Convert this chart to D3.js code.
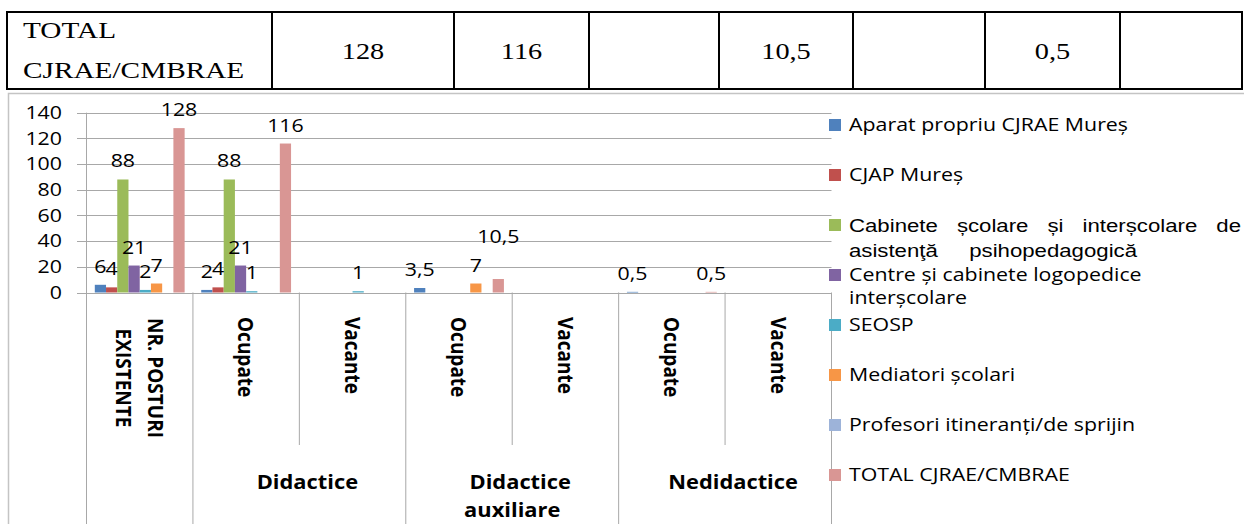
<!DOCTYPE html>
<html>
<head>
<meta charset="utf-8">
<script src="https://cdn.jsdelivr.net/npm/d3@7/dist/d3.min.js"></script>
<style>
  body { margin: 0; background: #fff; }
  svg { display: block; }
</style>
</head>
<body>
<svg id="chart"></svg>
<script>
// categories on the x axis (level 1) and their groups (level 2)
var categories = ["NR. POSTURI EXISTENTE", "Ocupate", "Vacante", "Ocupate", "Vacante", "Ocupate", "Vacante"];
var groupNames = ["Didactice", "Didactice auxiliare", "Nedidactice"];
var groupSpans = [[1, 2], [3, 4], [5, 6]];

// series
var seriesNames = [
  "Aparat propriu CJRAE Mureș",
  "CJAP Mureș",
  "Cabinete școlare și interșcolare de asistenţă psihopedagogică",
  "Centre și cabinete logopedice interșcolare",
  "SEOSP",
  "Mediatori școlari",
  "Profesori itineranți/de sprijin",
  "TOTAL CJRAE/CMBRAE"
];
var aparat    = [6, 2, null, 3.5, null, 0.5, null];
var cjap      = [4, 4, null, null, null, null, null];
var cabinete  = [88, 88, null, null, null, null, null];
var centre    = [21, 21, null, null, null, null, null];
var seosp     = [2, 1, 1, null, null, null, null];
var mediatori = [7, null, null, 7, null, null, null];
var profesori = [null, null, null, null, null, null, null];
var total     = [128, 116, null, 10.5, null, 0.5, null];
var seriesValues = [aparat, cjap, cabinete, centre, seosp, mediatori, profesori, total];

var colors = ["#4f81bd", "#c0504d", "#9bbb59", "#8064a2", "#4bacc6", "#f79646", "#9db3d9", "#d99694"];

// table row above the chart
var tableLabel = ["TOTAL", "CJRAE/CMBRAE"];
var tableValues = [128, 116, null, 10.5, null, 0.5, null];

var yTicks = [0, 20, 40, 60, 80, 100, 120, 140];

var W = 1244, H = 524;
var svg = d3.select("#chart").attr("width", W).attr("height", H);

var fmt = function(v) { return String(v).replace(".", ","); };

// the source picture is stretched sideways, so text gets a horizontal scale
function stext(parent, x, y, str, o) {
  o = o || {};
  var tr = "translate(" + x + "," + y + ") scale(" + (o.sx || 1) + ",1)" + (o.rot ? " rotate(90)" : "");
  return parent.append("text")
    .attr("transform", tr)
    .attr("dy", o.dy || null)
    .attr("text-anchor", o.anchor || "start")
    .style("font-family", o.family || "'Open Sans', sans-serif")
    .style("font-size", (o.size || 17.5) + "px")
    .style("font-weight", o.bold ? "bold" : "normal")
    .attr("fill", "#000")
    .text(str);
}

// spread the words of a line so that it ends at xEnd (justified text)
function justify(t, x0, xEnd, sx) {
  var str = t.text(), gaps = str.split(" ").length - 1;
  var len = t.node().getComputedTextLength();
  var ws = ((xEnd - x0) / sx - len) / gaps;
  t.style("word-spacing", Math.max(0, ws) + "px");
}

/* ---- table row ---- */
var tbl = svg.append("g");
var colEdges = [7, 272, 454, 589, 719, 853, 985, 1120, 1242];
tbl.append("rect")
  .attr("x", 7).attr("y", 12).attr("width", 1235).attr("height", 77)
  .attr("fill", "none").attr("stroke", "#000").attr("stroke-width", 2);
colEdges.slice(1, -1).forEach(function(cx) {
  tbl.append("line").attr("x1", cx).attr("x2", cx).attr("y1", 12).attr("y2", 89)
    .attr("stroke", "#000").attr("stroke-width", 2);
});
var serif = "'Liberation Serif', 'Times New Roman', serif";
stext(tbl, 23, 38, tableLabel[0], {family: serif, size: 24, sx: 1.22});
stext(tbl, 23, 78, tableLabel[1], {family: serif, size: 24, sx: 1.22});
tableValues.forEach(function(v, i) {
  if (v === null) return;
  stext(tbl, (colEdges[i + 1] + colEdges[i + 2]) / 2, 59, fmt(v),
    {family: serif, size: 24, sx: 1.18, anchor: "middle"});
});

/* ---- chart frame ---- */
svg.append("rect")
  .attr("x", 8.5).attr("y", 93.5).attr("width", 1250).attr("height", 450)
  .attr("fill", "none").attr("stroke", "#c4c4c4").attr("stroke-width", 1.5);

var plotL = 86.5, plotR = 831.5, yBase = 292.5, yTop = 112.7;
var grid = "#a8a8a8";

var x = d3.scaleBand().domain(d3.range(categories.length)).range([plotL, plotR]);
var xs = d3.scaleBand().domain(d3.range(seriesNames.length)).range([8.3, x.bandwidth() - 8.3]);
var y = d3.scaleLinear().domain([0, 140]).range([yBase, yTop]);

var g = svg.append("g");

// gridlines + ticks
g.selectAll(".grid").data(yTicks).enter().append("line")
  .attr("x1", 77).attr("x2", plotR)
  .attr("y1", function(d) { return Math.round(y(d)) + 0.5; })
  .attr("y2", function(d) { return Math.round(y(d)) + 0.5; })
  .attr("stroke", grid).attr("stroke-width", 1);

yTicks.forEach(function(t) {
  stext(g, 62, y(t), t, {sx: 1.22, anchor: "end", dy: "0.36em"});
});

// category axis lines: long ones between groups, short ones inside a group
g.append("line").attr("x1", plotL).attr("x2", plotL).attr("y1", y(140)).attr("y2", H)
  .attr("stroke", grid);
d3.range(1, categories.length + 1).forEach(function(i) {
  var bx = i < categories.length ? x(i) : plotR;
  var major = (i === 1 || i % 2 === 1);
  g.append("line").attr("x1", bx).attr("x2", bx)
    .attr("y1", yBase).attr("y2", major ? H : 445)
    .attr("stroke", grid);
});

// bars
seriesValues.forEach(function(vals, s) {
  var pts = vals.map(function(v, c) { return {c: c, v: v}; })
    .filter(function(d) { return d.v !== null; });
  g.selectAll(".bar-" + s).data(pts).enter().append("rect")
    .attr("class", "bar-" + s)
    .attr("x", function(d) { return x(d.c) + xs(s); })
    .attr("width", xs.bandwidth())
    .attr("y", function(d) { return y(d.v); })
    .attr("height", function(d) { return yBase - y(d.v); })
    .attr("fill", colors[s]);
});

// data labels
seriesValues.forEach(function(vals, s) {
  vals.forEach(function(v, c) {
    if (v === null) return;
    // the 10,5 label was dragged up by hand in the original
    var lift = (s === 7 && c === 3) ? 24 : 0;
    stext(g, x(c) + xs(s) + xs.bandwidth() / 2, y(v) - 12 - lift, fmt(v),
      {sx: 1.22, anchor: "middle"});
  });
});

// category labels (rotated)
categories.forEach(function(name, c) {
  var cx = x(c) + x.bandwidth() / 2;
  if (c === 0) {
    stext(g, cx + 16, 378, "NR. POSTURI", {bold: true, size: 19, sx: 1.15, rot: true, anchor: "middle", dy: "0.35em"});
    stext(g, cx - 16, 378, "EXISTENTE", {bold: true, size: 19, sx: 1.15, rot: true, anchor: "middle", dy: "0.35em"});
  } else {
    stext(g, cx, 317, name, {bold: true, size: 19, sx: 1.15, rot: true, dy: "0.35em"});
  }
});

// group labels
groupNames.forEach(function(name, i) {
  var a = groupSpans[i][0], b = groupSpans[i][1];
  var gx = (x(a) + x(b) + x.bandwidth()) / 2;
  name.split(" ").forEach(function(line, k) {
    stext(g, gx + (k === 0 ? 8 : 0), 489 + k * 28, line, {bold: true, size: 19, sx: 1.15, anchor: "middle"});
  });
});

/* ---- legend ---- */
var legendWrap = {
  2: ["Cabinete școlare și interșcolare de", "asistenţă psihopedagogică"],
  3: ["Centre și cabinete logopedice", "interșcolare"]
};
var leg = svg.append("g");
seriesNames.forEach(function(name, s) {
  var cy = 125 + s * 50;
  leg.append("rect").attr("x", 829).attr("y", cy - 6).attr("width", 12).attr("height", 12)
    .attr("fill", colors[s]);
  if (s === 2) {
    var arial = "'Liberation Sans', Arial, sans-serif";
    var l1 = stext(leg, 849, cy, legendWrap[s][0], {family: arial, size: 18.5, sx: 1.2, dy: "0.36em"});
    var l2 = stext(leg, 849, cy + 25, legendWrap[s][1], {family: arial, size: 18.5, sx: 1.2, dy: "0.36em"});
    justify(l1, 849, 1241, 1.2);
    justify(l2, 849, 1137, 1.2);
  } else if (legendWrap[s]) {
    stext(leg, 849, cy, legendWrap[s][0], {sx: 1.22, dy: "0.36em"});
    stext(leg, 849, cy + 23, legendWrap[s][1], {sx: 1.22, dy: "0.36em"});
  } else {
    stext(leg, 849, cy, name, {sx: 1.22, dy: "0.36em"});
  }
});
</script>
</body>
</html>
